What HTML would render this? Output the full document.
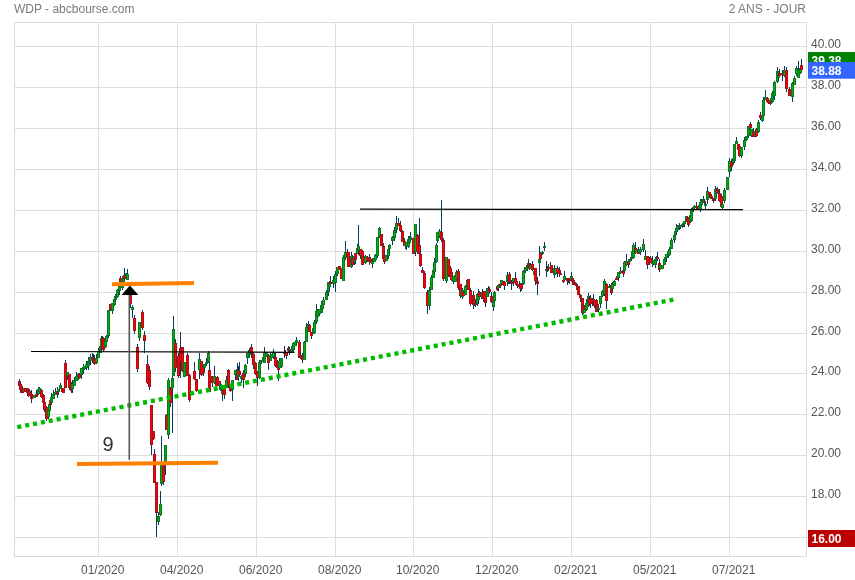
<!DOCTYPE html>
<html><head><meta charset="utf-8"><title>WDP</title>
<style>
html,body{margin:0;padding:0;background:#fff;}
body{width:855px;height:580px;overflow:hidden;}
.w{stroke:#0a3a5c;stroke-width:1;fill:none}.ge{fill:#0a7824}.gc{fill:#00b000}.re{fill:#a8101c}.rc{fill:#ff0000}
svg{display:block;will-change:transform;opacity:0.999;font-family:"Liberation Sans",sans-serif;font-size:12px;}
</style></head><body>
<svg width="855" height="580" viewBox="0 0 855 580">
<rect width="855" height="580" fill="#fff"/>
<text x="14" y="12.8" fill="#7a7a7a">WDP - abcbourse.com</text>
<text x="806" y="12.8" fill="#7a7a7a" text-anchor="end">2 ANS - JOUR</text>
<path d="M14.5 46.5H806.5M14.5 87.5H806.5M14.5 128.5H806.5M14.5 169.5H806.5M14.5 210.5H806.5M14.5 251.5H806.5M14.5 292.5H806.5M14.5 333.5H806.5M14.5 373.5H806.5M14.5 414.5H806.5M14.5 455.5H806.5M14.5 496.5H806.5M14.5 537.5H806.5M98.5 22.5V556.5M177.5 22.5V556.5M256.5 22.5V556.5M335.5 22.5V556.5M413.5 22.5V556.5M492.5 22.5V556.5M571.5 22.5V556.5M650.5 22.5V556.5M729.5 22.5V556.5" stroke="#dedede" stroke-width="1" fill="none" shape-rendering="crispEdges"/>
<rect x="14.5" y="22.5" width="792.0" height="534.0" fill="none" stroke="#dadada" stroke-width="1" shape-rendering="crispEdges"/>
<g fill="#555"><text x="811" y="48">40.00</text><text x="811" y="89">38.00</text><text x="811" y="130">36.00</text><text x="811" y="171">34.00</text><text x="811" y="212">32.00</text><text x="811" y="253">30.00</text><text x="811" y="294">28.00</text><text x="811" y="335">26.00</text><text x="811" y="375">24.00</text><text x="811" y="416">22.00</text><text x="811" y="457">20.00</text><text x="811" y="498">18.00</text><text x="81" y="573.8">01/2020</text><text x="160" y="573.8">04/2020</text><text x="239" y="573.8">06/2020</text><text x="318" y="573.8">08/2020</text><text x="396" y="573.8">10/2020</text><text x="475" y="573.8">12/2020</text><text x="554" y="573.8">02/2021</text><text x="633" y="573.8">05/2021</text><text x="712" y="573.8">07/2021</text></g>
<g shape-rendering="crispEdges"><path class="w" d="M19.5 379V386"/><path class="re" d="M18 381h3V386h-3z"/><path class="rc" d="M19 382h1V385h-1z"/><path class="w" d="M20.5 382V393"/><path class="re" d="M19 384h3V390h-3z"/><path class="rc" d="M20 385h1V389h-1z"/><path class="w" d="M22.5 386V393"/><path class="re" d="M21 388h3V393h-3z"/><path class="rc" d="M22 389h1V392h-1z"/><path class="ge" d="M23 388h3V392h-3z"/><path class="gc" d="M24 389h1V391h-1z"/><path class="re" d="M24 388h3V392h-3z"/><path class="rc" d="M25 389h1V391h-1z"/><path class="w" d="M27.5 388V396"/><path class="re" d="M26 388h3V393h-3z"/><path class="rc" d="M27 389h1V392h-1z"/><path class="w" d="M28.5 390V397"/><path class="re" d="M27 390h3V394h-3z"/><path class="rc" d="M28 391h1V393h-1z"/><path class="w" d="M29.5 389V396"/><path class="re" d="M28 391h3V396h-3z"/><path class="rc" d="M29 392h1V395h-1z"/><path class="w" d="M31.5 390V403"/><path class="re" d="M30 394h3V399h-3z"/><path class="rc" d="M31 395h1V398h-1z"/><path class="re" d="M31 395h3V398h-3z"/><path class="rc" d="M32 396h1V397h-1z"/><path class="ge" d="M33 395h3V398h-3z"/><path class="gc" d="M34 396h1V397h-1z"/><path class="w" d="M36.5 390V397"/><path class="re" d="M35 394h3V397h-3z"/><path class="rc" d="M36 395h1V396h-1z"/><path class="w" d="M38.5 387V395"/><path class="ge" d="M37 389h3V394h-3z"/><path class="gc" d="M38 390h1V393h-1z"/><path class="w" d="M39.5 387V392"/><path class="ge" d="M38 388h3V392h-3z"/><path class="gc" d="M39 389h1V391h-1z"/><path class="w" d="M41.5 389V398"/><path class="re" d="M40 390h3V397h-3z"/><path class="rc" d="M41 391h1V396h-1z"/><path class="w" d="M43.5 394V407"/><path class="re" d="M42 395h3V403h-3z"/><path class="rc" d="M43 396h1V402h-1z"/><path class="w" d="M44.5 401V412"/><path class="re" d="M43 402h3V410h-3z"/><path class="rc" d="M44 403h1V409h-1z"/><path class="w" d="M46.5 406V421"/><path class="re" d="M45 407h3V419h-3z"/><path class="rc" d="M46 408h1V418h-1z"/><path class="w" d="M48.5 404V419"/><path class="ge" d="M47 408h3V417h-3z"/><path class="gc" d="M48 409h1V416h-1z"/><path class="ge" d="M48 404h3V411h-3z"/><path class="gc" d="M49 405h1V410h-1z"/><path class="w" d="M50.5 398V408"/><path class="re" d="M49 400h3V405h-3z"/><path class="rc" d="M50 401h1V404h-1z"/><path class="w" d="M51.5 393V405"/><path class="ge" d="M50 397h3V403h-3z"/><path class="gc" d="M51 398h1V402h-1z"/><path class="w" d="M53.5 390V399"/><path class="ge" d="M52 394h3V399h-3z"/><path class="gc" d="M53 395h1V398h-1z"/><path class="w" d="M55.5 388V395"/><path class="ge" d="M54 392h3V395h-3z"/><path class="gc" d="M55 393h1V394h-1z"/><path class="w" d="M57.5 387V398"/><path class="re" d="M56 391h3V394h-3z"/><path class="rc" d="M57 392h1V393h-1z"/><path class="w" d="M58.5 389V395"/><path class="ge" d="M57 389h3V392h-3z"/><path class="gc" d="M58 390h1V391h-1z"/><path class="w" d="M60.5 383V389"/><path class="ge" d="M59 385h3V389h-3z"/><path class="gc" d="M60 386h1V388h-1z"/><path class="re" d="M61 388h3V392h-3z"/><path class="rc" d="M62 389h1V391h-1z"/><path class="re" d="M62 388h3V393h-3z"/><path class="rc" d="M63 389h1V392h-1z"/><path class="w" d="M65.5 360V388"/><path class="re" d="M64 363h3V388h-3z"/><path class="rc" d="M65 364h1V387h-1z"/><path class="w" d="M67.5 372V380"/><path class="ge" d="M66 372h3V376h-3z"/><path class="gc" d="M67 373h1V375h-1z"/><path class="w" d="M69.5 374V390"/><path class="re" d="M68 374h3V388h-3z"/><path class="rc" d="M69 375h1V387h-1z"/><path class="w" d="M71.5 382V393"/><path class="re" d="M70 386h3V391h-3z"/><path class="rc" d="M71 387h1V390h-1z"/><path class="w" d="M72.5 380V393"/><path class="ge" d="M71 384h3V389h-3z"/><path class="gc" d="M72 385h1V388h-1z"/><path class="w" d="M74.5 377V386"/><path class="ge" d="M73 380h3V386h-3z"/><path class="gc" d="M74 381h1V385h-1z"/><path class="w" d="M76.5 372V381"/><path class="ge" d="M75 376h3V381h-3z"/><path class="gc" d="M76 377h1V380h-1z"/><path class="w" d="M78.5 373V380"/><path class="ge" d="M77 374h3V379h-3z"/><path class="gc" d="M78 375h1V378h-1z"/><path class="w" d="M79.5 373V378"/><path class="re" d="M78 374h3V378h-3z"/><path class="rc" d="M79 375h1V377h-1z"/><path class="w" d="M81.5 368V379"/><path class="ge" d="M80 368h3V375h-3z"/><path class="gc" d="M81 369h1V374h-1z"/><path class="w" d="M83.5 364V374"/><path class="ge" d="M82 367h3V370h-3z"/><path class="gc" d="M83 368h1V369h-1z"/><path class="ge" d="M83 366h3V369h-3z"/><path class="gc" d="M84 367h1V368h-1z"/><path class="w" d="M86.5 361V370"/><path class="ge" d="M85 364h3V368h-3z"/><path class="gc" d="M86 365h1V367h-1z"/><path class="w" d="M88.5 357V370"/><path class="ge" d="M87 361h3V366h-3z"/><path class="gc" d="M88 362h1V365h-1z"/><path class="w" d="M89.5 358V364"/><path class="ge" d="M88 359h3V363h-3z"/><path class="gc" d="M89 360h1V362h-1z"/><path class="w" d="M90.5 354V365"/><path class="ge" d="M89 357h3V361h-3z"/><path class="gc" d="M90 358h1V360h-1z"/><path class="w" d="M92.5 353V363"/><path class="re" d="M91 357h3V360h-3z"/><path class="rc" d="M92 358h1V359h-1z"/><path class="w" d="M93.5 354V363"/><path class="re" d="M92 358h3V362h-3z"/><path class="rc" d="M93 359h1V361h-1z"/><path class="w" d="M94.5 355V365"/><path class="re" d="M93 359h3V364h-3z"/><path class="rc" d="M94 360h1V363h-1z"/><path class="w" d="M96.5 354V364"/><path class="ge" d="M95 358h3V363h-3z"/><path class="gc" d="M96 359h1V362h-1z"/><path class="w" d="M98.5 348V358"/><path class="ge" d="M97 351h3V358h-3z"/><path class="gc" d="M98 352h1V357h-1z"/><path class="w" d="M100.5 344V353"/><path class="ge" d="M99 346h3V353h-3z"/><path class="gc" d="M100 347h1V352h-1z"/><path class="w" d="M101.5 336V353"/><path class="ge" d="M100 338h3V350h-3z"/><path class="gc" d="M101 339h1V349h-1z"/><path class="w" d="M102.5 336V350"/><path class="re" d="M101 338h3V350h-3z"/><path class="rc" d="M102 339h1V349h-1z"/><path class="w" d="M103.5 337V352"/><path class="re" d="M102 338h3V350h-3z"/><path class="rc" d="M103 339h1V349h-1z"/><path class="w" d="M105.5 341V348"/><path class="ge" d="M104 341h3V347h-3z"/><path class="gc" d="M105 342h1V346h-1z"/><path class="w" d="M106.5 335V342"/><path class="ge" d="M105 336h3V342h-3z"/><path class="gc" d="M106 337h1V341h-1z"/><path class="w" d="M108.5 310V338"/><path class="ge" d="M107 310h3V336h-3z"/><path class="gc" d="M108 311h1V335h-1z"/><path class="w" d="M110.5 304V311"/><path class="re" d="M109 304h3V310h-3z"/><path class="rc" d="M110 305h1V309h-1z"/><path class="w" d="M112.5 303V314"/><path class="ge" d="M111 303h3V311h-3z"/><path class="gc" d="M112 304h1V310h-1z"/><path class="w" d="M114.5 296V306"/><path class="ge" d="M113 299h3V305h-3z"/><path class="gc" d="M114 300h1V304h-1z"/><path class="w" d="M115.5 296V302"/><path class="ge" d="M114 296h3V300h-3z"/><path class="gc" d="M115 297h1V299h-1z"/><path class="w" d="M116.5 291V298"/><path class="ge" d="M115 294h3V298h-3z"/><path class="gc" d="M116 295h1V297h-1z"/><path class="w" d="M117.5 289V297"/><path class="ge" d="M116 290h3V297h-3z"/><path class="gc" d="M117 291h1V296h-1z"/><path class="w" d="M119.5 284V295"/><path class="ge" d="M118 286h3V291h-3z"/><path class="gc" d="M119 287h1V290h-1z"/><path class="w" d="M120.5 276V285"/><path class="re" d="M119 278h3V282h-3z"/><path class="rc" d="M120 279h1V281h-1z"/><path class="w" d="M122.5 276V290"/><path class="ge" d="M121 278h3V288h-3z"/><path class="gc" d="M122 279h1V287h-1z"/><path class="w" d="M123.5 276V284"/><path class="ge" d="M122 277h3V282h-3z"/><path class="gc" d="M123 278h1V281h-1z"/><path class="w" d="M124.5 268V281"/><path class="re" d="M123 275h3V279h-3z"/><path class="rc" d="M124 276h1V278h-1z"/><path class="w" d="M126.5 273V279"/><path class="ge" d="M125 273h3V277h-3z"/><path class="gc" d="M126 274h1V276h-1z"/><path class="w" d="M127.5 269V280"/><path class="ge" d="M126 274h3V280h-3z"/><path class="gc" d="M127 275h1V279h-1z"/><path class="w" d="M130.5 293V308"/><path class="re" d="M129 295h3V304h-3z"/><path class="rc" d="M130 296h1V303h-1z"/><path class="w" d="M132.5 305V318"/><path class="ge" d="M131 307h3V310h-3z"/><path class="gc" d="M132 308h1V309h-1z"/><path class="w" d="M134.5 315V334"/><path class="re" d="M133 318h3V331h-3z"/><path class="rc" d="M134 319h1V330h-1z"/><path class="w" d="M137.5 344V372"/><path class="re" d="M136 347h3V369h-3z"/><path class="rc" d="M137 348h1V368h-1z"/><path class="w" d="M139.5 322V341"/><path class="ge" d="M138 322h3V338h-3z"/><path class="gc" d="M139 323h1V337h-1z"/><path class="w" d="M142.5 310V330"/><path class="re" d="M141 312h3V328h-3z"/><path class="rc" d="M142 313h1V327h-1z"/><path class="w" d="M144.5 331V353"/><path class="re" d="M143 335h3V341h-3z"/><path class="rc" d="M144 336h1V340h-1z"/><path class="w" d="M147.5 355V384"/><path class="re" d="M146 364h3V383h-3z"/><path class="rc" d="M147 365h1V382h-1z"/><path class="w" d="M149.5 366V390"/><path class="re" d="M148 370h3V387h-3z"/><path class="rc" d="M149 371h1V386h-1z"/><path class="w" d="M151.5 405V455"/><path class="re" d="M150 405h3V445h-3z"/><path class="rc" d="M151 406h1V444h-1z"/><path class="w" d="M153.5 431V440"/><path class="re" d="M152 431h3V439h-3z"/><path class="rc" d="M153 432h1V438h-1z"/><path class="w" d="M154.5 449V483"/><path class="re" d="M153 454h3V483h-3z"/><path class="rc" d="M154 455h1V482h-1z"/><path class="w" d="M156.5 482V537"/><path class="re" d="M155 482h3V513h-3z"/><path class="rc" d="M156 483h1V512h-1z"/><path class="w" d="M158.5 512V525"/><path class="ge" d="M157 516h3V522h-3z"/><path class="gc" d="M158 517h1V521h-1z"/><path class="w" d="M160.5 491V516"/><path class="ge" d="M159 504h3V515h-3z"/><path class="gc" d="M160 505h1V514h-1z"/><path class="w" d="M161.5 436V486"/><path class="ge" d="M160 464h3V484h-3z"/><path class="gc" d="M161 465h1V483h-1z"/><path class="w" d="M163.5 463V485"/><path class="re" d="M162 463h3V482h-3z"/><path class="rc" d="M163 464h1V481h-1z"/><path class="w" d="M165.5 445V475"/><path class="ge" d="M164 445h3V463h-3z"/><path class="gc" d="M165 446h1V462h-1z"/><path class="w" d="M166.5 414V430"/><path class="re" d="M165 415h3V430h-3z"/><path class="rc" d="M166 416h1V429h-1z"/><path class="w" d="M168.5 378V439"/><path class="ge" d="M167 380h3V435h-3z"/><path class="gc" d="M168 381h1V434h-1z"/><path class="w" d="M170.5 387V407"/><path class="re" d="M169 388h3V403h-3z"/><path class="rc" d="M170 389h1V402h-1z"/><path class="w" d="M172.5 376V433"/><path class="ge" d="M171 378h3V388h-3z"/><path class="gc" d="M172 379h1V387h-1z"/><path class="w" d="M173.5 316V376"/><path class="ge" d="M172 329h3V376h-3z"/><path class="gc" d="M173 330h1V375h-1z"/><path class="w" d="M175.5 339V372"/><path class="re" d="M174 343h3V368h-3z"/><path class="rc" d="M175 344h1V367h-1z"/><path class="w" d="M178.5 353V378"/><path class="re" d="M177 356h3V376h-3z"/><path class="rc" d="M178 357h1V375h-1z"/><path class="w" d="M180.5 332V378"/><path class="re" d="M179 348h3V362h-3z"/><path class="rc" d="M180 349h1V361h-1z"/><path class="w" d="M182.5 347V372"/><path class="re" d="M181 347h3V371h-3z"/><path class="rc" d="M182 348h1V370h-1z"/><path class="ge" d="M183 362h3V377h-3z"/><path class="gc" d="M184 363h1V376h-1z"/><path class="w" d="M187.5 353V376"/><path class="re" d="M186 355h3V376h-3z"/><path class="rc" d="M187 356h1V375h-1z"/><path class="w" d="M189.5 374V402"/><path class="re" d="M188 375h3V400h-3z"/><path class="rc" d="M189 376h1V399h-1z"/><path class="ge" d="M190 391h3V395h-3z"/><path class="gc" d="M191 392h1V394h-1z"/><path class="w" d="M194.5 362V380"/><path class="re" d="M193 371h3V379h-3z"/><path class="rc" d="M194 372h1V378h-1z"/><path class="w" d="M196.5 379V392"/><path class="re" d="M195 379h3V391h-3z"/><path class="rc" d="M196 380h1V390h-1z"/><path class="w" d="M199.5 353V379"/><path class="ge" d="M198 359h3V370h-3z"/><path class="gc" d="M199 360h1V369h-1z"/><path class="w" d="M201.5 361V376"/><path class="re" d="M200 361h3V375h-3z"/><path class="rc" d="M201 362h1V374h-1z"/><path class="w" d="M203.5 366V376"/><path class="re" d="M202 366h3V373h-3z"/><path class="rc" d="M203 367h1V372h-1z"/><path class="w" d="M204.5 364V370"/><path class="ge" d="M203 364h3V368h-3z"/><path class="gc" d="M204 365h1V367h-1z"/><path class="w" d="M206.5 358V366"/><path class="ge" d="M205 362h3V364h-3z"/><path class="w" d="M208.5 351V363"/><path class="ge" d="M207 353h3V362h-3z"/><path class="gc" d="M208 354h1V361h-1z"/><path class="w" d="M209.5 362V392"/><path class="re" d="M208 370h3V392h-3z"/><path class="rc" d="M209 371h1V391h-1z"/><path class="w" d="M212.5 376V387"/><path class="re" d="M211 376h3V383h-3z"/><path class="rc" d="M212 377h1V382h-1z"/><path class="w" d="M214.5 366V384"/><path class="ge" d="M213 376h3V383h-3z"/><path class="gc" d="M214 377h1V382h-1z"/><path class="re" d="M215 378h3V386h-3z"/><path class="rc" d="M216 379h1V385h-1z"/><path class="w" d="M217.5 376V384"/><path class="re" d="M216 377h3V384h-3z"/><path class="rc" d="M217 378h1V383h-1z"/><path class="w" d="M219.5 381V387"/><path class="re" d="M218 381h3V386h-3z"/><path class="rc" d="M219 382h1V385h-1z"/><path class="w" d="M220.5 383V391"/><path class="ge" d="M219 384h3V390h-3z"/><path class="gc" d="M220 385h1V389h-1z"/><path class="w" d="M222.5 386V401"/><path class="ge" d="M221 390h3V394h-3z"/><path class="gc" d="M222 391h1V393h-1z"/><path class="w" d="M223.5 388V395"/><path class="re" d="M222 389h3V394h-3z"/><path class="rc" d="M223 390h1V393h-1z"/><path class="w" d="M224.5 385V399"/><path class="re" d="M223 388h3V395h-3z"/><path class="rc" d="M224 389h1V394h-1z"/><path class="w" d="M226.5 376V388"/><path class="ge" d="M225 380h3V388h-3z"/><path class="gc" d="M226 381h1V387h-1z"/><path class="w" d="M228.5 369V388"/><path class="re" d="M227 370h3V386h-3z"/><path class="rc" d="M228 371h1V385h-1z"/><path class="w" d="M230.5 384V392"/><path class="re" d="M229 384h3V391h-3z"/><path class="rc" d="M230 385h1V390h-1z"/><path class="w" d="M232.5 380V401"/><path class="ge" d="M231 380h3V390h-3z"/><path class="gc" d="M232 381h1V389h-1z"/><path class="w" d="M235.5 370V380"/><path class="ge" d="M234 370h3V375h-3z"/><path class="gc" d="M235 371h1V374h-1z"/><path class="w" d="M237.5 363V380"/><path class="re" d="M236 369h3V380h-3z"/><path class="rc" d="M237 370h1V379h-1z"/><path class="w" d="M238.5 366V381"/><path class="ge" d="M237 370h3V377h-3z"/><path class="gc" d="M238 371h1V376h-1z"/><path class="w" d="M239.5 362V376"/><path class="re" d="M238 371h3V375h-3z"/><path class="rc" d="M239 372h1V374h-1z"/><path class="w" d="M241.5 375V383"/><path class="ge" d="M240 376h3V379h-3z"/><path class="gc" d="M241 377h1V378h-1z"/><path class="w" d="M243.5 370V388"/><path class="re" d="M242 373h3V380h-3z"/><path class="rc" d="M243 374h1V379h-1z"/><path class="w" d="M245.5 364V377"/><path class="ge" d="M244 365h3V374h-3z"/><path class="gc" d="M245 366h1V373h-1z"/><path class="w" d="M247.5 353V364"/><path class="ge" d="M246 353h3V358h-3z"/><path class="gc" d="M247 354h1V357h-1z"/><path class="w" d="M249.5 348V358"/><path class="ge" d="M248 350h3V355h-3z"/><path class="gc" d="M249 351h1V354h-1z"/><path class="w" d="M251.5 344V358"/><path class="re" d="M250 347h3V354h-3z"/><path class="rc" d="M251 348h1V353h-1z"/><path class="w" d="M253.5 352V369"/><path class="re" d="M252 354h3V365h-3z"/><path class="rc" d="M253 355h1V364h-1z"/><path class="w" d="M255.5 362V375"/><path class="re" d="M254 363h3V374h-3z"/><path class="rc" d="M255 364h1V373h-1z"/><path class="w" d="M257.5 371V386"/><path class="re" d="M256 372h3V378h-3z"/><path class="rc" d="M257 373h1V377h-1z"/><path class="w" d="M259.5 360V379"/><path class="ge" d="M258 362h3V378h-3z"/><path class="gc" d="M259 363h1V377h-1z"/><path class="w" d="M261.5 360V364"/><path class="ge" d="M260 360h3V362h-3z"/><path class="w" d="M263.5 355V362"/><path class="ge" d="M262 357h3V362h-3z"/><path class="gc" d="M263 358h1V361h-1z"/><path class="w" d="M264.5 347V363"/><path class="ge" d="M263 353h3V363h-3z"/><path class="gc" d="M264 354h1V362h-1z"/><path class="ge" d="M265 352h3V357h-3z"/><path class="gc" d="M266 353h1V356h-1z"/><path class="w" d="M268.5 354V370"/><path class="re" d="M267 355h3V363h-3z"/><path class="rc" d="M268 356h1V362h-1z"/><path class="w" d="M270.5 353V361"/><path class="ge" d="M269 355h3V361h-3z"/><path class="gc" d="M270 356h1V360h-1z"/><path class="ge" d="M270 354h3V358h-3z"/><path class="gc" d="M271 355h1V357h-1z"/><path class="w" d="M273.5 349V359"/><path class="ge" d="M272 352h3V357h-3z"/><path class="gc" d="M273 353h1V356h-1z"/><path class="w" d="M275.5 353V367"/><path class="re" d="M274 357h3V366h-3z"/><path class="rc" d="M275 358h1V365h-1z"/><path class="w" d="M277.5 360V369"/><path class="re" d="M276 361h3V368h-3z"/><path class="rc" d="M277 362h1V367h-1z"/><path class="w" d="M278.5 364V381"/><path class="re" d="M277 364h3V370h-3z"/><path class="rc" d="M278 365h1V369h-1z"/><path class="w" d="M279.5 358V368"/><path class="ge" d="M278 361h3V368h-3z"/><path class="gc" d="M279 362h1V367h-1z"/><path class="w" d="M281.5 358V368"/><path class="ge" d="M280 358h3V367h-3z"/><path class="gc" d="M281 359h1V366h-1z"/><path class="w" d="M284.5 346V358"/><path class="ge" d="M283 352h3V354h-3z"/><path class="w" d="M285.5 350V355"/><path class="re" d="M284 353h3V355h-3z"/><path class="w" d="M286.5 352V359"/><path class="re" d="M285 353h3V356h-3z"/><path class="rc" d="M286 354h1V355h-1z"/><path class="w" d="M288.5 346V352"/><path class="re" d="M287 348h3V351h-3z"/><path class="rc" d="M288 349h1V350h-1z"/><path class="w" d="M289.5 347V355"/><path class="re" d="M288 349h3V351h-3z"/><path class="w" d="M291.5 347V352"/><path class="ge" d="M290 349h3V352h-3z"/><path class="gc" d="M291 350h1V351h-1z"/><path class="w" d="M292.5 346V351"/><path class="ge" d="M291 346h3V350h-3z"/><path class="gc" d="M292 347h1V349h-1z"/><path class="w" d="M293.5 342V352"/><path class="ge" d="M292 343h3V350h-3z"/><path class="gc" d="M293 344h1V349h-1z"/><path class="ge" d="M294 342h3V346h-3z"/><path class="gc" d="M295 343h1V345h-1z"/><path class="w" d="M296.5 337V345"/><path class="ge" d="M295 340h3V343h-3z"/><path class="gc" d="M296 341h1V342h-1z"/><path class="w" d="M299.5 340V358"/><path class="re" d="M298 342h3V358h-3z"/><path class="rc" d="M299 343h1V357h-1z"/><path class="w" d="M300.5 352V359"/><path class="re" d="M299 355h3V358h-3z"/><path class="rc" d="M300 356h1V357h-1z"/><path class="w" d="M302.5 353V363"/><path class="re" d="M301 357h3V360h-3z"/><path class="rc" d="M302 358h1V359h-1z"/><path class="w" d="M304.5 341V360"/><path class="ge" d="M303 342h3V360h-3z"/><path class="gc" d="M304 343h1V359h-1z"/><path class="w" d="M306.5 323V342"/><path class="ge" d="M305 327h3V342h-3z"/><path class="gc" d="M306 328h1V341h-1z"/><path class="w" d="M308.5 321V329"/><path class="ge" d="M307 324h3V329h-3z"/><path class="gc" d="M308 325h1V328h-1z"/><path class="w" d="M309.5 324V332"/><path class="re" d="M308 325h3V332h-3z"/><path class="rc" d="M309 326h1V331h-1z"/><path class="w" d="M311.5 332V339"/><path class="re" d="M310 332h3V336h-3z"/><path class="rc" d="M311 333h1V335h-1z"/><path class="w" d="M313.5 326V334"/><path class="ge" d="M312 328h3V334h-3z"/><path class="gc" d="M313 329h1V333h-1z"/><path class="w" d="M314.5 320V333"/><path class="ge" d="M313 322h3V333h-3z"/><path class="gc" d="M314 323h1V332h-1z"/><path class="w" d="M316.5 304V324"/><path class="ge" d="M315 311h3V322h-3z"/><path class="gc" d="M316 312h1V321h-1z"/><path class="w" d="M317.5 309V318"/><path class="ge" d="M316 310h3V317h-3z"/><path class="gc" d="M317 311h1V316h-1z"/><path class="w" d="M319.5 309V316"/><path class="ge" d="M318 309h3V314h-3z"/><path class="gc" d="M319 310h1V313h-1z"/><path class="w" d="M321.5 301V313"/><path class="ge" d="M320 305h3V313h-3z"/><path class="gc" d="M321 306h1V312h-1z"/><path class="w" d="M322.5 300V311"/><path class="ge" d="M321 302h3V309h-3z"/><path class="gc" d="M322 303h1V308h-1z"/><path class="w" d="M323.5 297V305"/><path class="ge" d="M322 300h3V305h-3z"/><path class="gc" d="M323 301h1V304h-1z"/><path class="w" d="M326.5 290V300"/><path class="ge" d="M325 292h3V300h-3z"/><path class="gc" d="M326 293h1V299h-1z"/><path class="w" d="M328.5 282V296"/><path class="ge" d="M327 282h3V292h-3z"/><path class="gc" d="M328 283h1V291h-1z"/><path class="w" d="M329.5 281V291"/><path class="ge" d="M328 283h3V287h-3z"/><path class="gc" d="M329 284h1V286h-1z"/><path class="w" d="M330.5 276V284"/><path class="re" d="M329 282h3V284h-3z"/><path class="w" d="M333.5 276V288"/><path class="ge" d="M332 280h3V284h-3z"/><path class="gc" d="M333 281h1V283h-1z"/><path class="w" d="M335.5 271V292"/><path class="ge" d="M334 274h3V283h-3z"/><path class="gc" d="M335 275h1V282h-1z"/><path class="w" d="M337.5 267V276"/><path class="ge" d="M336 267h3V274h-3z"/><path class="gc" d="M337 268h1V273h-1z"/><path class="re" d="M338 266h3V270h-3z"/><path class="rc" d="M339 267h1V269h-1z"/><path class="re" d="M340 268h3V279h-3z"/><path class="rc" d="M341 269h1V278h-1z"/><path class="w" d="M343.5 255V281"/><path class="ge" d="M342 257h3V281h-3z"/><path class="gc" d="M343 258h1V280h-1z"/><path class="w" d="M345.5 241V260"/><path class="ge" d="M344 252h3V258h-3z"/><path class="gc" d="M345 253h1V257h-1z"/><path class="w" d="M347.5 249V260"/><path class="re" d="M346 252h3V256h-3z"/><path class="rc" d="M347 253h1V255h-1z"/><path class="re" d="M347 252h3V267h-3z"/><path class="rc" d="M348 253h1V266h-1z"/><path class="w" d="M351.5 252V268"/><path class="ge" d="M350 256h3V267h-3z"/><path class="gc" d="M351 257h1V266h-1z"/><path class="w" d="M352.5 255V266"/><path class="re" d="M351 258h3V265h-3z"/><path class="rc" d="M352 259h1V264h-1z"/><path class="w" d="M354.5 256V265"/><path class="ge" d="M353 256h3V262h-3z"/><path class="gc" d="M354 257h1V261h-1z"/><path class="w" d="M355.5 253V264"/><path class="re" d="M354 253h3V260h-3z"/><path class="rc" d="M355 254h1V259h-1z"/><path class="w" d="M357.5 244V254"/><path class="ge" d="M356 248h3V254h-3z"/><path class="gc" d="M357 249h1V253h-1z"/><path class="w" d="M358.5 225V255"/><path class="ge" d="M357 246h3V251h-3z"/><path class="gc" d="M358 247h1V250h-1z"/><path class="w" d="M360.5 249V259"/><path class="re" d="M359 249h3V256h-3z"/><path class="rc" d="M360 250h1V255h-1z"/><path class="w" d="M362.5 250V265"/><path class="re" d="M361 251h3V265h-3z"/><path class="rc" d="M362 252h1V264h-1z"/><path class="w" d="M365.5 255V264"/><path class="ge" d="M364 256h3V263h-3z"/><path class="gc" d="M365 257h1V262h-1z"/><path class="w" d="M367.5 256V262"/><path class="re" d="M366 257h3V261h-3z"/><path class="rc" d="M367 258h1V260h-1z"/><path class="w" d="M369.5 254V265"/><path class="re" d="M368 257h3V262h-3z"/><path class="rc" d="M369 258h1V261h-1z"/><path class="w" d="M370.5 257V263"/><path class="re" d="M369 259h3V263h-3z"/><path class="rc" d="M370 260h1V262h-1z"/><path class="w" d="M372.5 258V268"/><path class="ge" d="M371 261h3V264h-3z"/><path class="gc" d="M372 262h1V263h-1z"/><path class="w" d="M374.5 257V262"/><path class="ge" d="M373 258h3V262h-3z"/><path class="gc" d="M374 259h1V261h-1z"/><path class="w" d="M375.5 254V260"/><path class="ge" d="M374 255h3V260h-3z"/><path class="gc" d="M375 256h1V259h-1z"/><path class="w" d="M377.5 237V258"/><path class="ge" d="M376 237h3V256h-3z"/><path class="gc" d="M377 238h1V255h-1z"/><path class="w" d="M379.5 227V238"/><path class="ge" d="M378 228h3V237h-3z"/><path class="gc" d="M379 229h1V236h-1z"/><path class="re" d="M380 234h3V246h-3z"/><path class="rc" d="M381 235h1V245h-1z"/><path class="w" d="M383.5 243V259"/><path class="re" d="M382 246h3V259h-3z"/><path class="rc" d="M383 247h1V258h-1z"/><path class="w" d="M384.5 252V264"/><path class="re" d="M383 255h3V262h-3z"/><path class="rc" d="M384 256h1V261h-1z"/><path class="w" d="M386.5 255V261"/><path class="ge" d="M385 256h3V261h-3z"/><path class="gc" d="M386 257h1V260h-1z"/><path class="w" d="M388.5 248V259"/><path class="ge" d="M387 249h3V256h-3z"/><path class="gc" d="M388 250h1V255h-1z"/><path class="w" d="M389.5 244V253"/><path class="ge" d="M388 245h3V249h-3z"/><path class="gc" d="M389 246h1V248h-1z"/><path class="w" d="M392.5 236V245"/><path class="ge" d="M391 237h3V241h-3z"/><path class="gc" d="M392 238h1V240h-1z"/><path class="w" d="M394.5 227V241"/><path class="ge" d="M393 230h3V238h-3z"/><path class="gc" d="M394 231h1V237h-1z"/><path class="w" d="M396.5 216V233"/><path class="ge" d="M395 223h3V230h-3z"/><path class="gc" d="M396 224h1V229h-1z"/><path class="w" d="M398.5 218V226"/><path class="re" d="M397 223h3V226h-3z"/><path class="rc" d="M398 224h1V225h-1z"/><path class="w" d="M400.5 221V232"/><path class="re" d="M399 225h3V231h-3z"/><path class="rc" d="M400 226h1V230h-1z"/><path class="w" d="M402.5 230V242"/><path class="re" d="M401 231h3V242h-3z"/><path class="rc" d="M402 232h1V241h-1z"/><path class="w" d="M404.5 238V246"/><path class="re" d="M403 241h3V246h-3z"/><path class="rc" d="M404 242h1V245h-1z"/><path class="w" d="M405.5 243V249"/><path class="ge" d="M404 244h3V246h-3z"/><path class="w" d="M406.5 242V250"/><path class="ge" d="M405 242h3V246h-3z"/><path class="gc" d="M406 243h1V245h-1z"/><path class="w" d="M408.5 236V248"/><path class="ge" d="M407 239h3V247h-3z"/><path class="gc" d="M408 240h1V246h-1z"/><path class="w" d="M409.5 236V244"/><path class="ge" d="M408 238h3V243h-3z"/><path class="gc" d="M409 239h1V242h-1z"/><path class="w" d="M410.5 232V241"/><path class="ge" d="M409 237h3V240h-3z"/><path class="gc" d="M410 238h1V239h-1z"/><path class="re" d="M412 238h3V254h-3z"/><path class="rc" d="M413 239h1V253h-1z"/><path class="w" d="M415.5 224V256"/><path class="ge" d="M414 224h3V252h-3z"/><path class="gc" d="M415 225h1V251h-1z"/><path class="w" d="M417.5 234V254"/><path class="re" d="M416 235h3V252h-3z"/><path class="rc" d="M417 236h1V251h-1z"/><path class="w" d="M419.5 218V254"/><path class="re" d="M418 245h3V254h-3z"/><path class="rc" d="M419 246h1V253h-1z"/><path class="w" d="M420.5 250V267"/><path class="re" d="M419 254h3V266h-3z"/><path class="rc" d="M420 255h1V265h-1z"/><path class="w" d="M422.5 267V273"/><path class="re" d="M421 270h3V273h-3z"/><path class="rc" d="M422 271h1V272h-1z"/><path class="w" d="M424.5 271V289"/><path class="re" d="M423 273h3V288h-3z"/><path class="rc" d="M424 274h1V287h-1z"/><path class="w" d="M427.5 290V314"/><path class="re" d="M426 292h3V306h-3z"/><path class="rc" d="M427 293h1V305h-1z"/><path class="w" d="M429.5 287V310"/><path class="ge" d="M428 290h3V306h-3z"/><path class="gc" d="M429 291h1V305h-1z"/><path class="w" d="M431.5 275V290"/><path class="ge" d="M430 277h3V290h-3z"/><path class="gc" d="M431 278h1V289h-1z"/><path class="ge" d="M432 270h3V278h-3z"/><path class="gc" d="M433 271h1V277h-1z"/><path class="w" d="M434.5 258V274"/><path class="ge" d="M433 262h3V272h-3z"/><path class="gc" d="M434 263h1V271h-1z"/><path class="w" d="M436.5 243V263"/><path class="ge" d="M435 245h3V262h-3z"/><path class="gc" d="M436 246h1V261h-1z"/><path class="w" d="M437.5 232V243"/><path class="ge" d="M436 232h3V241h-3z"/><path class="gc" d="M437 233h1V240h-1z"/><path class="w" d="M439.5 229V238"/><path class="ge" d="M438 231h3V236h-3z"/><path class="gc" d="M439 232h1V235h-1z"/><path class="w" d="M441.5 200V242"/><path class="re" d="M440 232h3V240h-3z"/><path class="rc" d="M441 233h1V239h-1z"/><path class="w" d="M443.5 238V281"/><path class="re" d="M442 240h3V279h-3z"/><path class="rc" d="M443 241h1V278h-1z"/><path class="w" d="M446.5 257V283"/><path class="ge" d="M445 257h3V281h-3z"/><path class="gc" d="M446 258h1V280h-1z"/><path class="w" d="M448.5 259V277"/><path class="re" d="M447 259h3V275h-3z"/><path class="rc" d="M448 260h1V274h-1z"/><path class="w" d="M450.5 266V279"/><path class="re" d="M449 268h3V277h-3z"/><path class="rc" d="M450 269h1V276h-1z"/><path class="w" d="M451.5 272V281"/><path class="re" d="M450 272h3V280h-3z"/><path class="rc" d="M451 273h1V279h-1z"/><path class="w" d="M453.5 276V284"/><path class="ge" d="M452 276h3V282h-3z"/><path class="gc" d="M453 277h1V281h-1z"/><path class="w" d="M455.5 274V282"/><path class="ge" d="M454 275h3V282h-3z"/><path class="gc" d="M455 276h1V281h-1z"/><path class="w" d="M456.5 270V278"/><path class="ge" d="M455 272h3V278h-3z"/><path class="gc" d="M456 273h1V277h-1z"/><path class="w" d="M458.5 269V290"/><path class="re" d="M457 271h3V288h-3z"/><path class="rc" d="M458 272h1V287h-1z"/><path class="w" d="M460.5 284V298"/><path class="re" d="M459 284h3V296h-3z"/><path class="rc" d="M460 285h1V295h-1z"/><path class="w" d="M462.5 288V299"/><path class="ge" d="M461 290h3V297h-3z"/><path class="gc" d="M462 291h1V296h-1z"/><path class="w" d="M463.5 291V296"/><path class="re" d="M462 292h3V296h-3z"/><path class="rc" d="M463 293h1V295h-1z"/><path class="w" d="M465.5 285V295"/><path class="ge" d="M464 286h3V295h-3z"/><path class="gc" d="M465 287h1V294h-1z"/><path class="w" d="M467.5 280V288"/><path class="ge" d="M466 280h3V287h-3z"/><path class="gc" d="M467 281h1V286h-1z"/><path class="re" d="M467 279h3V290h-3z"/><path class="rc" d="M468 280h1V289h-1z"/><path class="w" d="M470.5 288V306"/><path class="re" d="M469 290h3V304h-3z"/><path class="rc" d="M470 291h1V303h-1z"/><path class="w" d="M473.5 291V309"/><path class="re" d="M472 295h3V305h-3z"/><path class="rc" d="M473 296h1V304h-1z"/><path class="w" d="M474.5 297V306"/><path class="re" d="M473 299h3V305h-3z"/><path class="rc" d="M474 300h1V304h-1z"/><path class="w" d="M475.5 301V307"/><path class="re" d="M474 303h3V305h-3z"/><path class="w" d="M477.5 294V306"/><path class="ge" d="M476 294h3V304h-3z"/><path class="gc" d="M477 295h1V303h-1z"/><path class="w" d="M478.5 289V304"/><path class="ge" d="M477 293h3V300h-3z"/><path class="gc" d="M478 294h1V299h-1z"/><path class="w" d="M479.5 291V297"/><path class="re" d="M478 292h3V297h-3z"/><path class="rc" d="M479 293h1V296h-1z"/><path class="w" d="M481.5 293V299"/><path class="re" d="M480 293h3V297h-3z"/><path class="rc" d="M481 294h1V296h-1z"/><path class="w" d="M482.5 289V297"/><path class="ge" d="M481 292h3V297h-3z"/><path class="gc" d="M482 293h1V296h-1z"/><path class="w" d="M483.5 291V302"/><path class="re" d="M482 292h3V299h-3z"/><path class="rc" d="M483 293h1V298h-1z"/><path class="w" d="M485.5 291V307"/><path class="re" d="M484 291h3V303h-3z"/><path class="rc" d="M485 292h1V302h-1z"/><path class="ge" d="M486 288h3V297h-3z"/><path class="gc" d="M487 289h1V296h-1z"/><path class="w" d="M488.5 286V296"/><path class="ge" d="M487 289h3V294h-3z"/><path class="gc" d="M488 290h1V293h-1z"/><path class="w" d="M489.5 287V293"/><path class="re" d="M488 289h3V292h-3z"/><path class="rc" d="M489 290h1V291h-1z"/><path class="w" d="M491.5 292V303"/><path class="re" d="M490 296h3V302h-3z"/><path class="rc" d="M491 297h1V301h-1z"/><path class="w" d="M493.5 300V311"/><path class="ge" d="M492 301h3V307h-3z"/><path class="gc" d="M493 302h1V306h-1z"/><path class="w" d="M494.5 291V303"/><path class="ge" d="M493 292h3V301h-3z"/><path class="gc" d="M494 293h1V300h-1z"/><path class="w" d="M497.5 285V291"/><path class="re" d="M496 286h3V290h-3z"/><path class="rc" d="M497 287h1V289h-1z"/><path class="w" d="M498.5 284V291"/><path class="ge" d="M497 285h3V288h-3z"/><path class="gc" d="M498 286h1V287h-1z"/><path class="w" d="M500.5 280V288"/><path class="re" d="M499 284h3V286h-3z"/><path class="ge" d="M500 280h3V284h-3z"/><path class="gc" d="M501 281h1V283h-1z"/><path class="re" d="M502 281h3V285h-3z"/><path class="rc" d="M503 282h1V284h-1z"/><path class="w" d="M504.5 281V290"/><path class="re" d="M503 282h3V286h-3z"/><path class="rc" d="M504 283h1V285h-1z"/><path class="w" d="M507.5 272V286"/><path class="ge" d="M506 275h3V282h-3z"/><path class="gc" d="M507 276h1V281h-1z"/><path class="w" d="M508.5 274V284"/><path class="ge" d="M507 275h3V281h-3z"/><path class="gc" d="M508 276h1V280h-1z"/><path class="w" d="M509.5 272V284"/><path class="re" d="M508 274h3V282h-3z"/><path class="rc" d="M509 275h1V281h-1z"/><path class="w" d="M511.5 280V290"/><path class="re" d="M510 282h3V284h-3z"/><path class="w" d="M513.5 278V286"/><path class="ge" d="M512 278h3V282h-3z"/><path class="gc" d="M513 279h1V281h-1z"/><path class="w" d="M515.5 272V284"/><path class="re" d="M514 278h3V283h-3z"/><path class="rc" d="M515 279h1V282h-1z"/><path class="w" d="M516.5 280V285"/><path class="re" d="M515 281h3V285h-3z"/><path class="rc" d="M516 282h1V284h-1z"/><path class="w" d="M517.5 284V288"/><path class="re" d="M516 284h3V286h-3z"/><path class="w" d="M519.5 281V287"/><path class="re" d="M518 285h3V287h-3z"/><path class="w" d="M520.5 283V292"/><path class="re" d="M519 285h3V289h-3z"/><path class="rc" d="M520 286h1V288h-1z"/><path class="w" d="M521.5 283V291"/><path class="re" d="M520 284h3V289h-3z"/><path class="rc" d="M521 285h1V288h-1z"/><path class="w" d="M523.5 270V285"/><path class="ge" d="M522 271h3V284h-3z"/><path class="gc" d="M523 272h1V283h-1z"/><path class="w" d="M525.5 267V273"/><path class="ge" d="M524 267h3V271h-3z"/><path class="gc" d="M525 268h1V270h-1z"/><path class="w" d="M527.5 263V271"/><path class="ge" d="M526 265h3V269h-3z"/><path class="gc" d="M527 266h1V268h-1z"/><path class="w" d="M528.5 259V269"/><path class="re" d="M527 263h3V268h-3z"/><path class="rc" d="M528 264h1V267h-1z"/><path class="w" d="M529.5 263V270"/><path class="re" d="M528 265h3V269h-3z"/><path class="rc" d="M529 266h1V268h-1z"/><path class="w" d="M530.5 263V269"/><path class="ge" d="M529 265h3V269h-3z"/><path class="gc" d="M530 266h1V268h-1z"/><path class="w" d="M532.5 261V271"/><path class="re" d="M531 264h3V270h-3z"/><path class="rc" d="M532 265h1V269h-1z"/><path class="w" d="M534.5 271V277"/><path class="ge" d="M533 271h3V275h-3z"/><path class="gc" d="M534 272h1V274h-1z"/><path class="w" d="M535.5 268V285"/><path class="re" d="M534 268h3V281h-3z"/><path class="rc" d="M535 269h1V280h-1z"/><path class="w" d="M537.5 277V295"/><path class="re" d="M536 281h3V284h-3z"/><path class="rc" d="M537 282h1V283h-1z"/><path class="w" d="M539.5 246V276"/><path class="ge" d="M538 259h3V263h-3z"/><path class="gc" d="M539 260h1V262h-1z"/><path class="w" d="M540.5 252V259"/><path class="re" d="M539 253h3V259h-3z"/><path class="rc" d="M540 254h1V258h-1z"/><path class="w" d="M542.5 251V255"/><path class="ge" d="M541 252h3V254h-3z"/><path class="w" d="M544.5 242V251"/><path class="ge" d="M543 246h3V248h-3z"/><path class="w" d="M546.5 261V277"/><path class="ge" d="M545 269h3V271h-3z"/><path class="w" d="M547.5 266V272"/><path class="re" d="M546 268h3V270h-3z"/><path class="w" d="M548.5 264V271"/><path class="re" d="M547 267h3V269h-3z"/><path class="w" d="M550.5 262V270"/><path class="ge" d="M549 267h3V269h-3z"/><path class="re" d="M550 265h3V273h-3z"/><path class="rc" d="M551 266h1V272h-1z"/><path class="w" d="M553.5 268V275"/><path class="re" d="M552 268h3V273h-3z"/><path class="rc" d="M553 269h1V272h-1z"/><path class="w" d="M554.5 265V278"/><path class="ge" d="M553 268h3V275h-3z"/><path class="gc" d="M554 269h1V274h-1z"/><path class="ge" d="M554 268h3V274h-3z"/><path class="gc" d="M555 269h1V273h-1z"/><path class="w" d="M557.5 266V277"/><path class="re" d="M556 268h3V273h-3z"/><path class="rc" d="M557 269h1V272h-1z"/><path class="w" d="M559.5 267V277"/><path class="re" d="M558 270h3V274h-3z"/><path class="rc" d="M559 271h1V273h-1z"/><path class="w" d="M560.5 272V275"/><path class="re" d="M559 273h3V275h-3z"/><path class="w" d="M563.5 277V283"/><path class="re" d="M562 280h3V282h-3z"/><path class="w" d="M564.5 271V280"/><path class="ge" d="M563 276h3V280h-3z"/><path class="gc" d="M564 277h1V279h-1z"/><path class="w" d="M567.5 278V285"/><path class="re" d="M566 278h3V281h-3z"/><path class="rc" d="M567 279h1V280h-1z"/><path class="w" d="M568.5 278V283"/><path class="re" d="M567 278h3V280h-3z"/><path class="w" d="M569.5 279V284"/><path class="re" d="M568 279h3V281h-3z"/><path class="w" d="M571.5 272V280"/><path class="ge" d="M570 276h3V280h-3z"/><path class="gc" d="M571 277h1V279h-1z"/><path class="re" d="M571 278h3V282h-3z"/><path class="rc" d="M572 279h1V281h-1z"/><path class="w" d="M573.5 279V285"/><path class="re" d="M572 280h3V285h-3z"/><path class="rc" d="M573 281h1V284h-1z"/><path class="w" d="M574.5 281V285"/><path class="re" d="M573 282h3V285h-3z"/><path class="rc" d="M574 283h1V284h-1z"/><path class="w" d="M576.5 283V290"/><path class="re" d="M575 284h3V286h-3z"/><path class="w" d="M577.5 284V290"/><path class="re" d="M576 286h3V290h-3z"/><path class="rc" d="M577 287h1V289h-1z"/><path class="re" d="M577 286h3V295h-3z"/><path class="rc" d="M578 287h1V294h-1z"/><path class="w" d="M580.5 294V302"/><path class="re" d="M579 295h3V298h-3z"/><path class="rc" d="M580 296h1V297h-1z"/><path class="w" d="M582.5 298V315"/><path class="re" d="M581 298h3V313h-3z"/><path class="rc" d="M582 299h1V312h-1z"/><path class="w" d="M583.5 304V314"/><path class="re" d="M582 305h3V313h-3z"/><path class="rc" d="M583 306h1V312h-1z"/><path class="ge" d="M583 309h3V313h-3z"/><path class="gc" d="M584 310h1V312h-1z"/><path class="w" d="M586.5 299V311"/><path class="ge" d="M585 303h3V310h-3z"/><path class="gc" d="M586 304h1V309h-1z"/><path class="w" d="M588.5 293V307"/><path class="ge" d="M587 296h3V306h-3z"/><path class="gc" d="M588 297h1V305h-1z"/><path class="w" d="M589.5 296V306"/><path class="re" d="M588 298h3V305h-3z"/><path class="rc" d="M589 299h1V304h-1z"/><path class="w" d="M590.5 295V308"/><path class="re" d="M589 298h3V304h-3z"/><path class="rc" d="M590 299h1V303h-1z"/><path class="w" d="M592.5 298V306"/><path class="re" d="M591 299h3V302h-3z"/><path class="rc" d="M592 300h1V301h-1z"/><path class="w" d="M593.5 294V302"/><path class="re" d="M592 299h3V302h-3z"/><path class="rc" d="M593 300h1V301h-1z"/><path class="w" d="M594.5 300V308"/><path class="re" d="M593 300h3V306h-3z"/><path class="rc" d="M594 301h1V305h-1z"/><path class="w" d="M596.5 299V312"/><path class="re" d="M595 300h3V312h-3z"/><path class="rc" d="M596 301h1V311h-1z"/><path class="w" d="M597.5 304V311"/><path class="re" d="M596 304h3V310h-3z"/><path class="rc" d="M597 305h1V309h-1z"/><path class="w" d="M598.5 305V312"/><path class="ge" d="M597 308h3V310h-3z"/><path class="w" d="M600.5 296V308"/><path class="ge" d="M599 296h3V304h-3z"/><path class="gc" d="M600 297h1V303h-1z"/><path class="w" d="M602.5 290V297"/><path class="ge" d="M601 291h3V296h-3z"/><path class="gc" d="M602 292h1V295h-1z"/><path class="w" d="M604.5 279V296"/><path class="ge" d="M603 281h3V294h-3z"/><path class="gc" d="M604 282h1V293h-1z"/><path class="w" d="M606.5 283V309"/><path class="re" d="M605 284h3V301h-3z"/><path class="rc" d="M606 285h1V300h-1z"/><path class="w" d="M609.5 284V288"/><path class="ge" d="M608 286h3V288h-3z"/><path class="w" d="M611.5 283V295"/><path class="re" d="M610 285h3V293h-3z"/><path class="rc" d="M611 286h1V292h-1z"/><path class="w" d="M612.5 282V291"/><path class="ge" d="M611 284h3V289h-3z"/><path class="gc" d="M612 285h1V288h-1z"/><path class="w" d="M614.5 280V286"/><path class="ge" d="M613 281h3V286h-3z"/><path class="gc" d="M614 282h1V285h-1z"/><path class="w" d="M616.5 277V280"/><path class="re" d="M615 278h3V280h-3z"/><path class="w" d="M617.5 272V278"/><path class="ge" d="M616 276h3V278h-3z"/><path class="w" d="M618.5 272V281"/><path class="ge" d="M617 272h3V278h-3z"/><path class="gc" d="M618 273h1V277h-1z"/><path class="w" d="M620.5 267V274"/><path class="ge" d="M619 271h3V273h-3z"/><path class="w" d="M622.5 270V274"/><path class="re" d="M621 271h3V273h-3z"/><path class="w" d="M623.5 270V277"/><path class="re" d="M622 271h3V274h-3z"/><path class="rc" d="M623 272h1V273h-1z"/><path class="w" d="M624.5 261V272"/><path class="ge" d="M623 262h3V271h-3z"/><path class="gc" d="M624 263h1V270h-1z"/><path class="w" d="M626.5 254V266"/><path class="ge" d="M625 261h3V265h-3z"/><path class="gc" d="M626 262h1V264h-1z"/><path class="w" d="M628.5 261V268"/><path class="re" d="M627 261h3V265h-3z"/><path class="rc" d="M628 262h1V264h-1z"/><path class="w" d="M629.5 259V263"/><path class="ge" d="M628 259h3V262h-3z"/><path class="gc" d="M629 260h1V261h-1z"/><path class="w" d="M631.5 254V261"/><path class="re" d="M630 257h3V259h-3z"/><path class="ge" d="M631 251h3V259h-3z"/><path class="gc" d="M632 252h1V258h-1z"/><path class="w" d="M633.5 243V258"/><path class="ge" d="M632 245h3V258h-3z"/><path class="gc" d="M633 246h1V257h-1z"/><path class="w" d="M635.5 242V254"/><path class="re" d="M634 248h3V253h-3z"/><path class="rc" d="M635 249h1V252h-1z"/><path class="ge" d="M635 249h3V253h-3z"/><path class="gc" d="M636 250h1V252h-1z"/><path class="w" d="M638.5 247V254"/><path class="re" d="M637 249h3V254h-3z"/><path class="rc" d="M638 250h1V253h-1z"/><path class="ge" d="M638 249h3V253h-3z"/><path class="gc" d="M639 250h1V252h-1z"/><path class="w" d="M640.5 247V255"/><path class="ge" d="M639 249h3V252h-3z"/><path class="gc" d="M640 250h1V251h-1z"/><path class="w" d="M643.5 239V252"/><path class="ge" d="M642 244h3V250h-3z"/><path class="gc" d="M643 245h1V249h-1z"/><path class="w" d="M645.5 250V260"/><path class="ge" d="M644 256h3V260h-3z"/><path class="gc" d="M645 257h1V259h-1z"/><path class="w" d="M647.5 256V269"/><path class="re" d="M646 256h3V265h-3z"/><path class="rc" d="M647 257h1V264h-1z"/><path class="w" d="M649.5 257V265"/><path class="re" d="M648 257h3V263h-3z"/><path class="rc" d="M649 258h1V262h-1z"/><path class="w" d="M650.5 256V263"/><path class="re" d="M649 258h3V263h-3z"/><path class="rc" d="M650 259h1V262h-1z"/><path class="w" d="M652.5 256V267"/><path class="re" d="M651 260h3V264h-3z"/><path class="rc" d="M652 261h1V263h-1z"/><path class="w" d="M653.5 260V265"/><path class="ge" d="M652 260h3V264h-3z"/><path class="gc" d="M653 261h1V263h-1z"/><path class="w" d="M655.5 257V268"/><path class="ge" d="M654 259h3V265h-3z"/><path class="gc" d="M655 260h1V264h-1z"/><path class="w" d="M656.5 256V263"/><path class="ge" d="M655 258h3V261h-3z"/><path class="gc" d="M656 259h1V260h-1z"/><path class="w" d="M657.5 252V261"/><path class="re" d="M656 257h3V259h-3z"/><path class="w" d="M659.5 259V272"/><path class="re" d="M658 263h3V270h-3z"/><path class="rc" d="M659 264h1V269h-1z"/><path class="ge" d="M659 265h3V269h-3z"/><path class="gc" d="M660 266h1V268h-1z"/><path class="ge" d="M661 265h3V269h-3z"/><path class="gc" d="M662 266h1V268h-1z"/><path class="w" d="M664.5 258V265"/><path class="ge" d="M663 259h3V265h-3z"/><path class="gc" d="M664 260h1V264h-1z"/><path class="w" d="M665.5 255V262"/><path class="ge" d="M664 257h3V260h-3z"/><path class="gc" d="M665 258h1V259h-1z"/><path class="w" d="M666.5 254V262"/><path class="ge" d="M665 254h3V258h-3z"/><path class="gc" d="M666 255h1V257h-1z"/><path class="w" d="M668.5 250V258"/><path class="ge" d="M667 251h3V256h-3z"/><path class="gc" d="M668 252h1V255h-1z"/><path class="w" d="M669.5 247V256"/><path class="ge" d="M668 249h3V255h-3z"/><path class="gc" d="M669 250h1V254h-1z"/><path class="w" d="M671.5 238V249"/><path class="ge" d="M670 240h3V249h-3z"/><path class="gc" d="M671 241h1V248h-1z"/><path class="w" d="M674.5 235V243"/><path class="ge" d="M673 235h3V240h-3z"/><path class="gc" d="M674 236h1V239h-1z"/><path class="w" d="M675.5 230V237"/><path class="ge" d="M674 231h3V235h-3z"/><path class="gc" d="M675 232h1V234h-1z"/><path class="w" d="M676.5 224V235"/><path class="ge" d="M675 228h3V232h-3z"/><path class="gc" d="M676 229h1V231h-1z"/><path class="w" d="M677.5 225V232"/><path class="ge" d="M676 226h3V230h-3z"/><path class="gc" d="M677 227h1V229h-1z"/><path class="w" d="M679.5 223V230"/><path class="re" d="M678 225h3V227h-3z"/><path class="w" d="M680.5 225V229"/><path class="ge" d="M679 225h3V227h-3z"/><path class="w" d="M682.5 223V228"/><path class="ge" d="M681 224h3V226h-3z"/><path class="w" d="M683.5 223V227"/><path class="ge" d="M682 223h3V225h-3z"/><path class="w" d="M684.5 221V227"/><path class="ge" d="M683 221h3V224h-3z"/><path class="gc" d="M684 222h1V223h-1z"/><path class="ge" d="M685 216h3V221h-3z"/><path class="gc" d="M686 217h1V220h-1z"/><path class="w" d="M687.5 216V223"/><path class="re" d="M686 217h3V222h-3z"/><path class="rc" d="M687 218h1V221h-1z"/><path class="w" d="M688.5 217V227"/><path class="re" d="M687 217h3V225h-3z"/><path class="rc" d="M688 218h1V224h-1z"/><path class="w" d="M690.5 213V223"/><path class="ge" d="M689 215h3V222h-3z"/><path class="gc" d="M690 216h1V221h-1z"/><path class="w" d="M691.5 208V221"/><path class="ge" d="M690 210h3V221h-3z"/><path class="gc" d="M691 211h1V220h-1z"/><path class="w" d="M693.5 206V212"/><path class="ge" d="M692 207h3V210h-3z"/><path class="gc" d="M693 208h1V209h-1z"/><path class="w" d="M694.5 205V209"/><path class="ge" d="M693 206h3V208h-3z"/><path class="w" d="M696.5 202V208"/><path class="ge" d="M695 206h3V208h-3z"/><path class="re" d="M696 206h3V210h-3z"/><path class="rc" d="M697 207h1V209h-1z"/><path class="w" d="M699.5 204V209"/><path class="ge" d="M698 205h3V209h-3z"/><path class="gc" d="M699 206h1V208h-1z"/><path class="w" d="M700.5 199V212"/><path class="ge" d="M699 202h3V210h-3z"/><path class="gc" d="M700 203h1V209h-1z"/><path class="w" d="M701.5 199V206"/><path class="ge" d="M700 201h3V205h-3z"/><path class="gc" d="M701 202h1V204h-1z"/><path class="w" d="M703.5 196V203"/><path class="ge" d="M702 199h3V201h-3z"/><path class="w" d="M704.5 199V206"/><path class="re" d="M703 201h3V203h-3z"/><path class="w" d="M705.5 202V209"/><path class="ge" d="M704 204h3V206h-3z"/><path class="w" d="M707.5 187V204"/><path class="ge" d="M706 191h3V200h-3z"/><path class="gc" d="M707 192h1V199h-1z"/><path class="w" d="M709.5 192V198"/><path class="re" d="M708 192h3V195h-3z"/><path class="rc" d="M709 193h1V194h-1z"/><path class="re" d="M709 194h3V197h-3z"/><path class="rc" d="M710 195h1V196h-1z"/><path class="w" d="M711.5 195V199"/><path class="re" d="M710 196h3V199h-3z"/><path class="rc" d="M711 197h1V198h-1z"/><path class="w" d="M713.5 198V203"/><path class="re" d="M712 199h3V201h-3z"/><path class="w" d="M715.5 186V201"/><path class="ge" d="M714 189h3V199h-3z"/><path class="gc" d="M715 190h1V198h-1z"/><path class="w" d="M716.5 188V197"/><path class="ge" d="M715 190h3V194h-3z"/><path class="gc" d="M716 191h1V193h-1z"/><path class="w" d="M717.5 187V193"/><path class="re" d="M716 189h3V193h-3z"/><path class="rc" d="M717 190h1V192h-1z"/><path class="w" d="M719.5 189V202"/><path class="re" d="M718 193h3V201h-3z"/><path class="rc" d="M719 194h1V200h-1z"/><path class="w" d="M721.5 194V207"/><path class="re" d="M720 196h3V207h-3z"/><path class="rc" d="M721 197h1V206h-1z"/><path class="w" d="M722.5 203V210"/><path class="ge" d="M721 204h3V208h-3z"/><path class="gc" d="M722 205h1V207h-1z"/><path class="w" d="M724.5 188V203"/><path class="ge" d="M723 190h3V201h-3z"/><path class="gc" d="M724 191h1V200h-1z"/><path class="ge" d="M726 177h3V190h-3z"/><path class="gc" d="M727 178h1V189h-1z"/><path class="w" d="M729.5 158V177"/><path class="ge" d="M728 161h3V172h-3z"/><path class="gc" d="M729 162h1V171h-1z"/><path class="w" d="M731.5 159V171"/><path class="re" d="M730 162h3V167h-3z"/><path class="rc" d="M731 163h1V166h-1z"/><path class="w" d="M733.5 154V165"/><path class="ge" d="M732 158h3V163h-3z"/><path class="gc" d="M733 159h1V162h-1z"/><path class="w" d="M734.5 144V163"/><path class="ge" d="M733 144h3V161h-3z"/><path class="gc" d="M734 145h1V160h-1z"/><path class="w" d="M736.5 137V144"/><path class="ge" d="M735 141h3V144h-3z"/><path class="gc" d="M736 142h1V143h-1z"/><path class="w" d="M738.5 144V151"/><path class="re" d="M737 144h3V150h-3z"/><path class="rc" d="M738 145h1V149h-1z"/><path class="w" d="M739.5 146V157"/><path class="re" d="M738 146h3V156h-3z"/><path class="rc" d="M739 147h1V155h-1z"/><path class="w" d="M741.5 147V158"/><path class="ge" d="M740 147h3V156h-3z"/><path class="gc" d="M741 148h1V155h-1z"/><path class="w" d="M744.5 137V150"/><path class="ge" d="M743 140h3V147h-3z"/><path class="gc" d="M744 141h1V146h-1z"/><path class="w" d="M746.5 136V141"/><path class="ge" d="M745 136h3V140h-3z"/><path class="gc" d="M746 137h1V139h-1z"/><path class="w" d="M748.5 126V138"/><path class="ge" d="M747 126h3V136h-3z"/><path class="gc" d="M748 127h1V135h-1z"/><path class="w" d="M750.5 122V131"/><path class="re" d="M749 124h3V128h-3z"/><path class="rc" d="M750 125h1V127h-1z"/><path class="w" d="M751.5 129V137"/><path class="ge" d="M750 129h3V136h-3z"/><path class="gc" d="M751 130h1V135h-1z"/><path class="w" d="M753.5 128V137"/><path class="re" d="M752 132h3V137h-3z"/><path class="rc" d="M753 133h1V136h-1z"/><path class="w" d="M755.5 130V137"/><path class="ge" d="M754 131h3V136h-3z"/><path class="gc" d="M755 132h1V135h-1z"/><path class="w" d="M756.5 128V137"/><path class="re" d="M755 129h3V136h-3z"/><path class="rc" d="M756 130h1V135h-1z"/><path class="w" d="M758.5 120V133"/><path class="ge" d="M757 122h3V132h-3z"/><path class="gc" d="M758 123h1V131h-1z"/><path class="w" d="M760.5 112V120"/><path class="re" d="M759 115h3V118h-3z"/><path class="rc" d="M760 116h1V117h-1z"/><path class="w" d="M762.5 115V122"/><path class="ge" d="M761 116h3V121h-3z"/><path class="gc" d="M762 117h1V120h-1z"/><path class="w" d="M763.5 97V117"/><path class="ge" d="M762 100h3V116h-3z"/><path class="gc" d="M763 101h1V115h-1z"/><path class="w" d="M765.5 90V100"/><path class="ge" d="M764 97h3V100h-3z"/><path class="gc" d="M765 98h1V99h-1z"/><path class="w" d="M767.5 97V103"/><path class="re" d="M766 98h3V102h-3z"/><path class="rc" d="M767 99h1V101h-1z"/><path class="w" d="M768.5 100V104"/><path class="re" d="M767 100h3V103h-3z"/><path class="rc" d="M768 101h1V102h-1z"/><path class="w" d="M770.5 101V105"/><path class="re" d="M769 102h3V104h-3z"/><path class="w" d="M771.5 96V103"/><path class="ge" d="M770 98h3V103h-3z"/><path class="gc" d="M771 99h1V102h-1z"/><path class="w" d="M772.5 91V103"/><path class="ge" d="M771 93h3V102h-3z"/><path class="gc" d="M772 94h1V101h-1z"/><path class="w" d="M774.5 81V100"/><path class="ge" d="M773 82h3V96h-3z"/><path class="gc" d="M774 83h1V95h-1z"/><path class="w" d="M777.5 67V83"/><path class="ge" d="M776 71h3V82h-3z"/><path class="gc" d="M777 72h1V81h-1z"/><path class="w" d="M778.5 72V81"/><path class="ge" d="M777 72h3V78h-3z"/><path class="gc" d="M778 73h1V77h-1z"/><path class="w" d="M779.5 69V76"/><path class="re" d="M778 73h3V76h-3z"/><path class="rc" d="M779 74h1V75h-1z"/><path class="re" d="M780 73h3V75h-3z"/><path class="w" d="M782.5 70V81"/><path class="re" d="M781 73h3V75h-3z"/><path class="w" d="M784.5 66V77"/><path class="ge" d="M783 70h3V76h-3z"/><path class="gc" d="M784 71h1V75h-1z"/><path class="w" d="M786.5 67V92"/><path class="re" d="M785 70h3V89h-3z"/><path class="rc" d="M786 71h1V88h-1z"/><path class="w" d="M789.5 87V96"/><path class="re" d="M788 89h3V96h-3z"/><path class="rc" d="M789 90h1V95h-1z"/><path class="w" d="M792.5 82V102"/><path class="ge" d="M791 83h3V97h-3z"/><path class="gc" d="M792 84h1V96h-1z"/><path class="w" d="M794.5 76V85"/><path class="ge" d="M793 78h3V85h-3z"/><path class="gc" d="M794 79h1V84h-1z"/><path class="w" d="M796.5 66V76"/><path class="ge" d="M795 68h3V74h-3z"/><path class="gc" d="M796 69h1V73h-1z"/><path class="w" d="M798.5 61V78"/><path class="ge" d="M797 70h3V78h-3z"/><path class="gc" d="M798 71h1V77h-1z"/><path class="w" d="M800.5 67V74"/><path class="ge" d="M799 68h3V73h-3z"/><path class="gc" d="M800 69h1V72h-1z"/><path class="w" d="M801.5 59V70"/><path class="re" d="M800 65h3V70h-3z"/><path class="rc" d="M801 66h1V69h-1z"/></g>
<!-- annotations -->
<line x1="31" y1="351.5" x2="294.5" y2="352.3" stroke="#000" stroke-width="1.2"/>
<line x1="360" y1="209.2" x2="743" y2="209.6" stroke="#000" stroke-width="1.2"/>
<line x1="17.3" y1="427.2" x2="673.4" y2="299.6" stroke="#0b0" stroke-width="4.4" stroke-dasharray="4.100 3.904"/>
<line x1="112" y1="284.2" x2="194" y2="282.9" stroke="#ff8000" stroke-width="4"/>
<line x1="77" y1="463.9" x2="218" y2="462.7" stroke="#ff8000" stroke-width="4"/>
<line x1="129.3" y1="293" x2="129.3" y2="459.8" stroke="#555" stroke-width="1.6"/>
<path d="M129.9 285.6L138.4 295L121.6 295z" fill="#000"/>
<text x="102.5" y="451" font-size="20" fill="#333">9</text>
<!-- badges -->
<rect x="808" y="52" width="47" height="16.5" fill="#008000"/>
<text x="811.5" y="64.8" fill="#fff" font-weight="bold">39.38</text>
<rect x="808" y="62" width="47" height="16.7" fill="#3366ff"/>
<text x="811.5" y="74.7" fill="#fff" font-weight="bold">38.88</text>
<rect x="808" y="530" width="47" height="17" fill="#bb0000"/>
<text x="811.5" y="542.6" fill="#fff" font-weight="bold">16.00</text>
</svg>
</body></html>
